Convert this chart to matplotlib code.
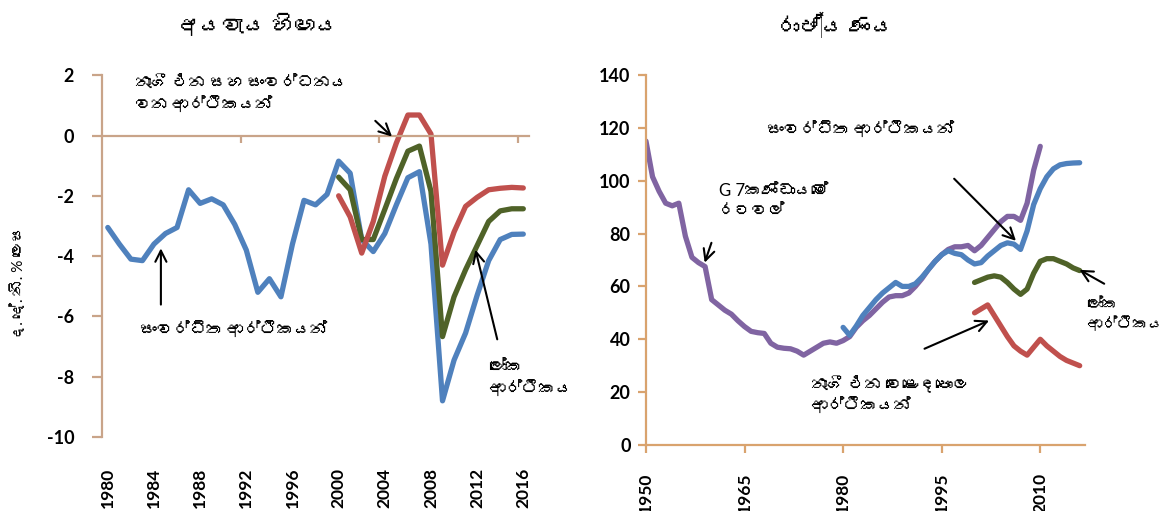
import matplotlib
matplotlib.use("Agg")
import matplotlib.pyplot as plt
from matplotlib import font_manager, ft2font

# --- data: budget deficit (% of GDP) ---
deficit_years = list(range(1980, 2017))
advanced_deficit = [-3.05, -3.6, -4.1, -4.15, -3.6, -3.25, -3.05, -1.8, -2.25, -2.1,
                    -2.3, -2.95, -3.8, -5.2, -4.75, -5.35, -3.6, -2.15, -2.3, -1.95,
                    -0.85, -1.25, -3.45, -3.85, -3.25, -2.3, -1.4, -1.2, -3.6, -8.8,
                    -7.45, -6.55, -5.3, -4.15, -3.45, -3.28, -3.27]
em_years = list(range(2000, 2017))
emerging_deficit = [-2.0, -2.7, -3.9, -2.85, -1.35, -0.25, 0.68, 0.68, 0.05, -4.3,
                    -3.2, -2.35, -2.05, -1.8, -1.75, -1.72, -1.74]
world_deficit = [-1.38, -1.8, -3.45, -3.45, -2.45, -1.43, -0.52, -0.35, -1.85, -6.67,
                 -5.35, -4.45, -3.65, -2.85, -2.5, -2.43, -2.43]

# --- data: public debt (% of GDP) ---
g7_years = list(range(1950, 2011))
g7_debt = [115, 101.5, 96, 91.5, 90.5, 91.5, 79, 71, 69, 67.5,
           55, 53, 51, 49.5, 47, 44.8, 43, 42.5, 42.2, 38.5,
           37, 36.6, 36.4, 35.5, 34, 35.5, 37, 38.5, 39, 38.5,
           39.5, 41, 44.5, 47, 49, 51.5, 54, 56, 56.5, 56.5,
           57.5, 60, 63, 66.5, 69.5, 72, 74, 75, 75, 75.5,
           73.5, 75.5, 78.5, 81.5, 84.5, 86.5, 86.5, 85, 91.5, 104,
           113]
adv_years = list(range(1980, 2017))
advanced_debt = [44.5, 41.5, 45, 49, 52, 55, 57.5, 59.5, 61.5, 60,
                 60, 61, 63.5, 66.5, 69.5, 72, 73.5, 72.5, 72, 70,
                 68.5, 69, 71.5, 73.5, 75.5, 76.5, 76, 74, 81, 91,
                 97, 101.5, 104.5, 106, 106.5, 106.7, 106.8]
world_debt = [61.5, 62.5, 63.5, 64, 63.5, 61.5, 59, 57, 59, 65,
              69.5, 70.5, 70.5, 69.5, 68.5, 67, 66]
emerging_debt = [50, 51.5, 53, 49, 45, 41, 37.5, 35.5, 34, 37,
                 40, 37.5, 35.5, 33.5, 32, 31, 30]

BLUE = "#4f81bd"
RED = "#c0504d"
GREEN = "#4f6228"
PURPLE = "#8064a2"
AXL = "#c9a489"
AXR = "#d9a36e"


def sinhala_font():
    # look for any installed font that actually has Sinhala glyphs
    for f in font_manager.fontManager.ttflist:
        try:
            cmap = ft2font.FT2Font(f.fname).get_charmap()
        except Exception:
            continue
        if 0x0D85 in cmap and 0x0DBA in cmap:
            return f.name
    return None


fams = ["Lato"]
sf = sinhala_font()
if sf:
    fams.append(sf)
fams.append("DejaVu Sans")
plt.rcParams["font.family"] = fams
plt.rcParams["axes.unicode_minus"] = False

fig = plt.figure(figsize=(11.7, 5.11), dpi=100)
line_kw = dict(lw=3.8, solid_capstyle="round", solid_joinstyle="round")
arrow_kw = dict(arrowstyle="->", color="black", lw=1.5, mutation_scale=20)
txt_kw = dict(fontsize=12, color="black", linespacing=1.35)

# ---------------- left: deficit ----------------
ax1 = fig.add_axes([0.0872, 0.1448, 0.365, 0.708])
ax1.plot(deficit_years, advanced_deficit, color=BLUE, **line_kw)
ax1.plot(em_years, world_deficit, color=GREEN, **line_kw)
ax1.plot(em_years, emerging_deficit, color=RED, **line_kw)
ax1.set_xlim(1979.5, 2016.5)
ax1.set_ylim(-10, 2)
ax1.set_yticks(range(-10, 3, 2))
for s in ["top", "right"]:
    ax1.spines[s].set_visible(False)
ax1.spines["left"].set_color(AXL)
ax1.spines["left"].set_linewidth(1.6)
ax1.spines["bottom"].set_position(("data", 0))
ax1.spines["bottom"].set_color(AXL)
ax1.spines["bottom"].set_linewidth(1.6)
ax1.set_xticks([1991.5, 2003.5, 2015.5])
ax1.tick_params(axis="x", labelbottom=False, length=5, width=1.6, color=AXL)
ax1.tick_params(axis="y", length=7, width=1.6, color=AXL, pad=13, labelsize=13)
for t in ax1.get_yticklabels():
    t.set_fontweight("bold")

yrs1 = ax1.secondary_xaxis("bottom")
yrs1.set_xticks(range(1980, 2017, 4))
yrs1.tick_params(length=0, pad=22, labelsize=12.5, labelrotation=90)
yrs1.spines["bottom"].set_visible(False)
for t in yrs1.get_xticklabels():
    t.set_fontweight("bold")

ax1.text(0.077, 0.997, "නැගී එන සහ සංවර්ධනය\nවන ආර්ථිකයන්", transform=ax1.transAxes,
         ha="left", va="top", **txt_kw)
ax1.text(0.309, 0.296, "සංවර්ධිත ආර්ථිකයන්", transform=ax1.transAxes,
         ha="center", va="center", **txt_kw)
ax1.text(0.906, 0.213, "ලෝක\nආර්ථිකය", transform=ax1.transAxes,
         ha="left", va="top", **txt_kw)
ax1.annotate("", xy=(2004.8, -0.1), xytext=(2003.0, 0.55), arrowprops=arrow_kw)
ax1.annotate("", xy=(1984.6, -3.65), xytext=(1984.6, -5.7), arrowprops=arrow_kw)
ax1.annotate("", xy=(2011.8, -3.7), xytext=(2013.8, -6.85), arrowprops=arrow_kw)

fig.text(258 / 1170, 1 - 25 / 511, "අයවැය හිඟය", ha="center", va="center",
         fontsize=16, fontweight="bold")
fig.text(18 / 1170, 1 - 283 / 511, "ද. දේ. නි. % ලෙස", rotation=90,
         ha="center", va="center", fontsize=11)

# ---------------- right: debt ----------------
ax2 = fig.add_axes([0.5521, 0.1292, 0.3752, 0.724])
ax2.plot(g7_years, g7_debt, color=PURPLE, **line_kw)
ax2.plot(adv_years, advanced_debt, color=BLUE, **line_kw)
ax2.plot(em_years, world_debt, color=GREEN, **line_kw)
ax2.plot(em_years, emerging_debt, color=RED, **line_kw)
ax2.set_xlim(1950, 2016.8)
ax2.set_ylim(0, 140)
ax2.set_yticks(range(0, 141, 20))
ax2.set_xticks(range(1950, 2011, 15))
for s in ["top", "right"]:
    ax2.spines[s].set_visible(False)
for s in ["left", "bottom"]:
    ax2.spines[s].set_color(AXR)
    ax2.spines[s].set_linewidth(1.6)
ax2.tick_params(axis="y", length=6, width=1.6, color=AXR, pad=5, labelsize=13)
ax2.tick_params(axis="x", length=6, width=1.6, color=AXR, pad=14, labelsize=12.5,
                labelrotation=90)
for t in ax2.get_yticklabels() + ax2.get_xticklabels():
    t.set_fontweight("bold")

ax2.text(0.49, 0.851, "සංවර්ධිත ආර්ථිකයන්", transform=ax2.transAxes,
         ha="center", va="center", **txt_kw)
ax2.text(0.166, 0.708, "G 7කණ්ඩායමේ\nරටවල්", transform=ax2.transAxes,
         ha="left", va="top", **txt_kw)
ax2.text(1.005, 0.397, "ලෝක\nආර්ථිකය", transform=ax2.transAxes,
         ha="left", va="top", fontsize=11, color="black", linespacing=1.35)
ax2.text(0.376, 0.189, "නැගී එන වෙළෙඳපොල\nආර්ථිකයන්", transform=ax2.transAxes,
         ha="left", va="top", **txt_kw)
ax2.annotate("", xy=(2006.6, 76.5), xytext=(1996.6, 101.5), arrowprops=arrow_kw)
ax2.annotate("", xy=(1958.8, 68), xytext=(1960.1, 77.5), arrowprops=arrow_kw)
ax2.annotate("", xy=(2015.6, 66.8), xytext=(2020.1, 60.5), arrowprops=arrow_kw,
             annotation_clip=False)
ax2.annotate("", xy=(2002.6, 47.5), xytext=(1992, 36), arrowprops=arrow_kw)

fig.text(835 / 1170, 1 - 25 / 511, "රාජ්‍ය ණය", ha="center", va="center",
         fontsize=16, fontweight="bold")

fig.savefig("out.png", dpi=100)
